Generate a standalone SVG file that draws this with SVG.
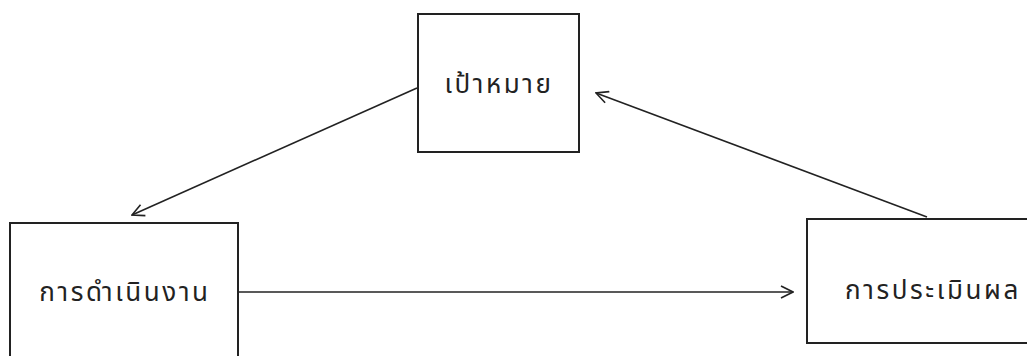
<svg xmlns="http://www.w3.org/2000/svg" width="1027" height="356" viewBox="0 0 1027 356">
<style>
.box{fill:#fff;stroke:#222;stroke-width:2}
.lbl{font-family:"Noto Sans Thai","Liberation Serif","DejaVu Sans",serif;font-size:26px;fill:#222;text-anchor:middle;letter-spacing:2.6px}
.con{stroke:#222;stroke-width:1.6;fill:none}
</style>
<defs>
<marker id="arr" viewBox="0 0 14 14" refX="13" refY="7" markerWidth="14" markerHeight="14" markerUnits="userSpaceOnUse" orient="auto">
<path d="M1,1 L13,7 L1,13" fill="none" stroke="#222" stroke-width="1.6"/>
</marker>
</defs>
<rect width="1027" height="356" fill="#fff"/>
<g id="connectors">
<line class="con" x1="417" y1="88" x2="132" y2="215" marker-end="url(#arr)"/>
<line class="con" x1="927" y1="217" x2="596" y2="93" marker-end="url(#arr)"/>
<line class="con" x1="238" y1="292" x2="793" y2="292" marker-end="url(#arr)"/>
</g>
<g id="goal">
<rect class="box" x="418" y="14" width="161" height="138"/>
<text class="lbl" x="499" y="93">เป้าหมาย</text>
</g>
<g id="operation">
<rect class="box" x="10" y="223" width="228" height="140"/>
<text class="lbl" x="125" y="301">การดำเนินงาน</text>
</g>
<g id="evaluation">
<rect class="box" x="807" y="219" width="230" height="124"/>
<text class="lbl" x="933" y="299">การประเมินผล</text>
</g>
</svg>
